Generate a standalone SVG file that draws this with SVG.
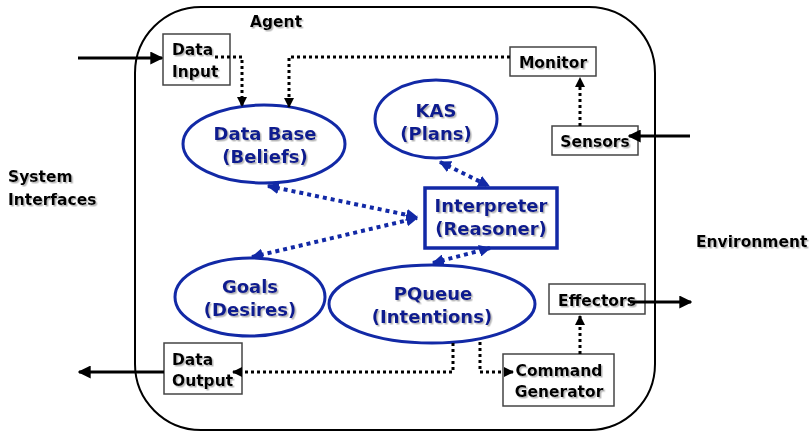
<svg xmlns="http://www.w3.org/2000/svg" width="812" height="431" viewBox="0 0 812 431">
<defs>
<style>
.bt{font-family:"DejaVu Sans",Verdana,sans-serif;font-weight:bold;font-size:15.5px;fill:#000;filter:url(#sh)}
.blt{font-family:"DejaVu Sans",Verdana,sans-serif;font-weight:bold;font-size:18px;fill:#0d1a8f;text-anchor:middle;filter:url(#sh)}
.box{fill:#fff;stroke:#444;stroke-width:1.5}
.ell{fill:#fff;stroke:#1229a6;stroke-width:3}
.dot{fill:none;stroke:#000;stroke-width:3;stroke-dasharray:3 3}
.bdot{fill:none;stroke:#1229a6;stroke-width:4;stroke-dasharray:4 4}
.solid{fill:none;stroke:#000;stroke-width:3}
</style>
<filter id="sh" x="-10%" y="-20%" width="130%" height="150%">
<feDropShadow dx="1.5" dy="1.5" stdDeviation="0.7" flood-color="#888" flood-opacity="0.6"/>
</filter>
<marker id="ak" viewBox="0 0 10 10" refX="9" refY="5" markerWidth="10" markerHeight="10" markerUnits="userSpaceOnUse" orient="auto-start-reverse">
<path d="M0,0 L10,5 L0,10 z" fill="#000"/>
</marker>
<marker id="ab" viewBox="0 0 10 10" refX="9" refY="5" markerWidth="13" markerHeight="13" markerUnits="userSpaceOnUse" orient="auto-start-reverse">
<path d="M0,0 L10,5 L0,10 z" fill="#000"/>
</marker>
<marker id="au" viewBox="0 0 10 10" refX="9" refY="5" markerWidth="12" markerHeight="12" markerUnits="userSpaceOnUse" orient="auto-start-reverse">
<path d="M0,0 L10,5 L0,10 z" fill="#1229a6"/>
</marker>
</defs>
<rect x="0" y="0" width="812" height="431" fill="#fff"/>
<g id="agent">
<rect x="135" y="7" width="520" height="423" rx="66" ry="66" fill="none" stroke="#000" stroke-width="2"/>
<text class="bt" x="250" y="27">Agent</text>
</g>
<g id="system-interfaces">
<text class="bt" x="8" y="182">System</text>
<text class="bt" x="8" y="205">Interfaces</text>
</g>
<g id="environment">
<text class="bt" x="696" y="247">Environment</text>
</g>
<g id="data-input">
<rect class="box" x="163" y="34" width="67" height="51"/>
<text class="bt" x="172" y="55">Data</text>
<text class="bt" x="172" y="77">Input</text>
</g>
<g id="monitor">
<rect class="box" x="510" y="47" width="86" height="29"/>
<text class="bt" x="553" y="68" text-anchor="middle">Monitor</text>
</g>
<g id="sensors">
<rect class="box" x="552" y="126" width="86" height="29"/>
<text class="bt" x="595" y="147" text-anchor="middle">Sensors</text>
</g>
<g id="data-base">
<ellipse class="ell" cx="264" cy="144" rx="81" ry="39"/>
<text class="blt" x="265" y="140">Data Base</text>
<text class="blt" x="265" y="163">(Beliefs)</text>
</g>
<g id="kas">
<ellipse class="ell" cx="436" cy="119" rx="61" ry="39"/>
<text class="blt" x="436" y="117">KAS</text>
<text class="blt" x="436" y="140">(Plans)</text>
</g>
<g id="interpreter">
<rect x="425" y="188" width="132" height="60" fill="#fff" stroke="#1229a6" stroke-width="3.5"/>
<text class="blt" x="491" y="212">Interpreter</text>
<text class="blt" x="491" y="235">(Reasoner)</text>
</g>
<g id="goals">
<ellipse class="ell" cx="250" cy="297" rx="75" ry="39"/>
<text class="blt" x="250" y="293">Goals</text>
<text class="blt" x="250" y="316">(Desires)</text>
</g>
<g id="pqueue">
<ellipse class="ell" cx="432" cy="304" rx="103" ry="39"/>
<text class="blt" x="433" y="300">PQueue</text>
<text class="blt" x="432" y="323">(Intentions)</text>
</g>
<g id="effectors">
<rect class="box" x="549" y="284" width="96" height="30"/>
<text class="bt" x="597" y="306" text-anchor="middle">Effectors</text>
</g>
<g id="data-output">
<rect class="box" x="164" y="343" width="78" height="51"/>
<text class="bt" x="172" y="365">Data</text>
<text class="bt" x="172" y="386">Output</text>
</g>
<g id="command-generator">
<rect class="box" x="503" y="354" width="111" height="52"/>
<text class="bt" x="559" y="376" text-anchor="middle">Command</text>
<text class="bt" x="559" y="397" text-anchor="middle">Generator</text>
</g>
<g id="connectors">
<path class="solid" d="M78,58 H162" marker-end="url(#ab)"/>
<path class="solid" d="M164,372 H79" marker-end="url(#ab)"/>
<path class="solid" d="M690,136 H629" marker-end="url(#ab)"/>
<path class="solid" d="M630,302 H691" marker-end="url(#ab)"/>
<path class="dot" d="M215,57 H242 V106" marker-end="url(#ak)"/>
<path class="dot" d="M510,57 H289 V107" marker-end="url(#ak)"/>
<path class="dot" d="M580,126 V78" marker-end="url(#ak)"/>
<path class="dot" d="M580,354 V316" marker-end="url(#ak)"/>
<path class="dot" d="M453,343 V372 H233" marker-end="url(#ak)"/>
<path class="dot" d="M480,342 V372 H513" marker-end="url(#ak)"/>
<path class="bdot" d="M268,186 L417,217" marker-start="url(#au)" marker-end="url(#au)"/>
<path class="bdot" d="M252,257 L417,218" marker-start="url(#au)" marker-end="url(#au)"/>
<path class="bdot" d="M440,162 L489,186" marker-start="url(#au)" marker-end="url(#au)"/>
<path class="bdot" d="M433,263 L490,248" marker-start="url(#au)" marker-end="url(#au)"/>
</g>
</svg>
